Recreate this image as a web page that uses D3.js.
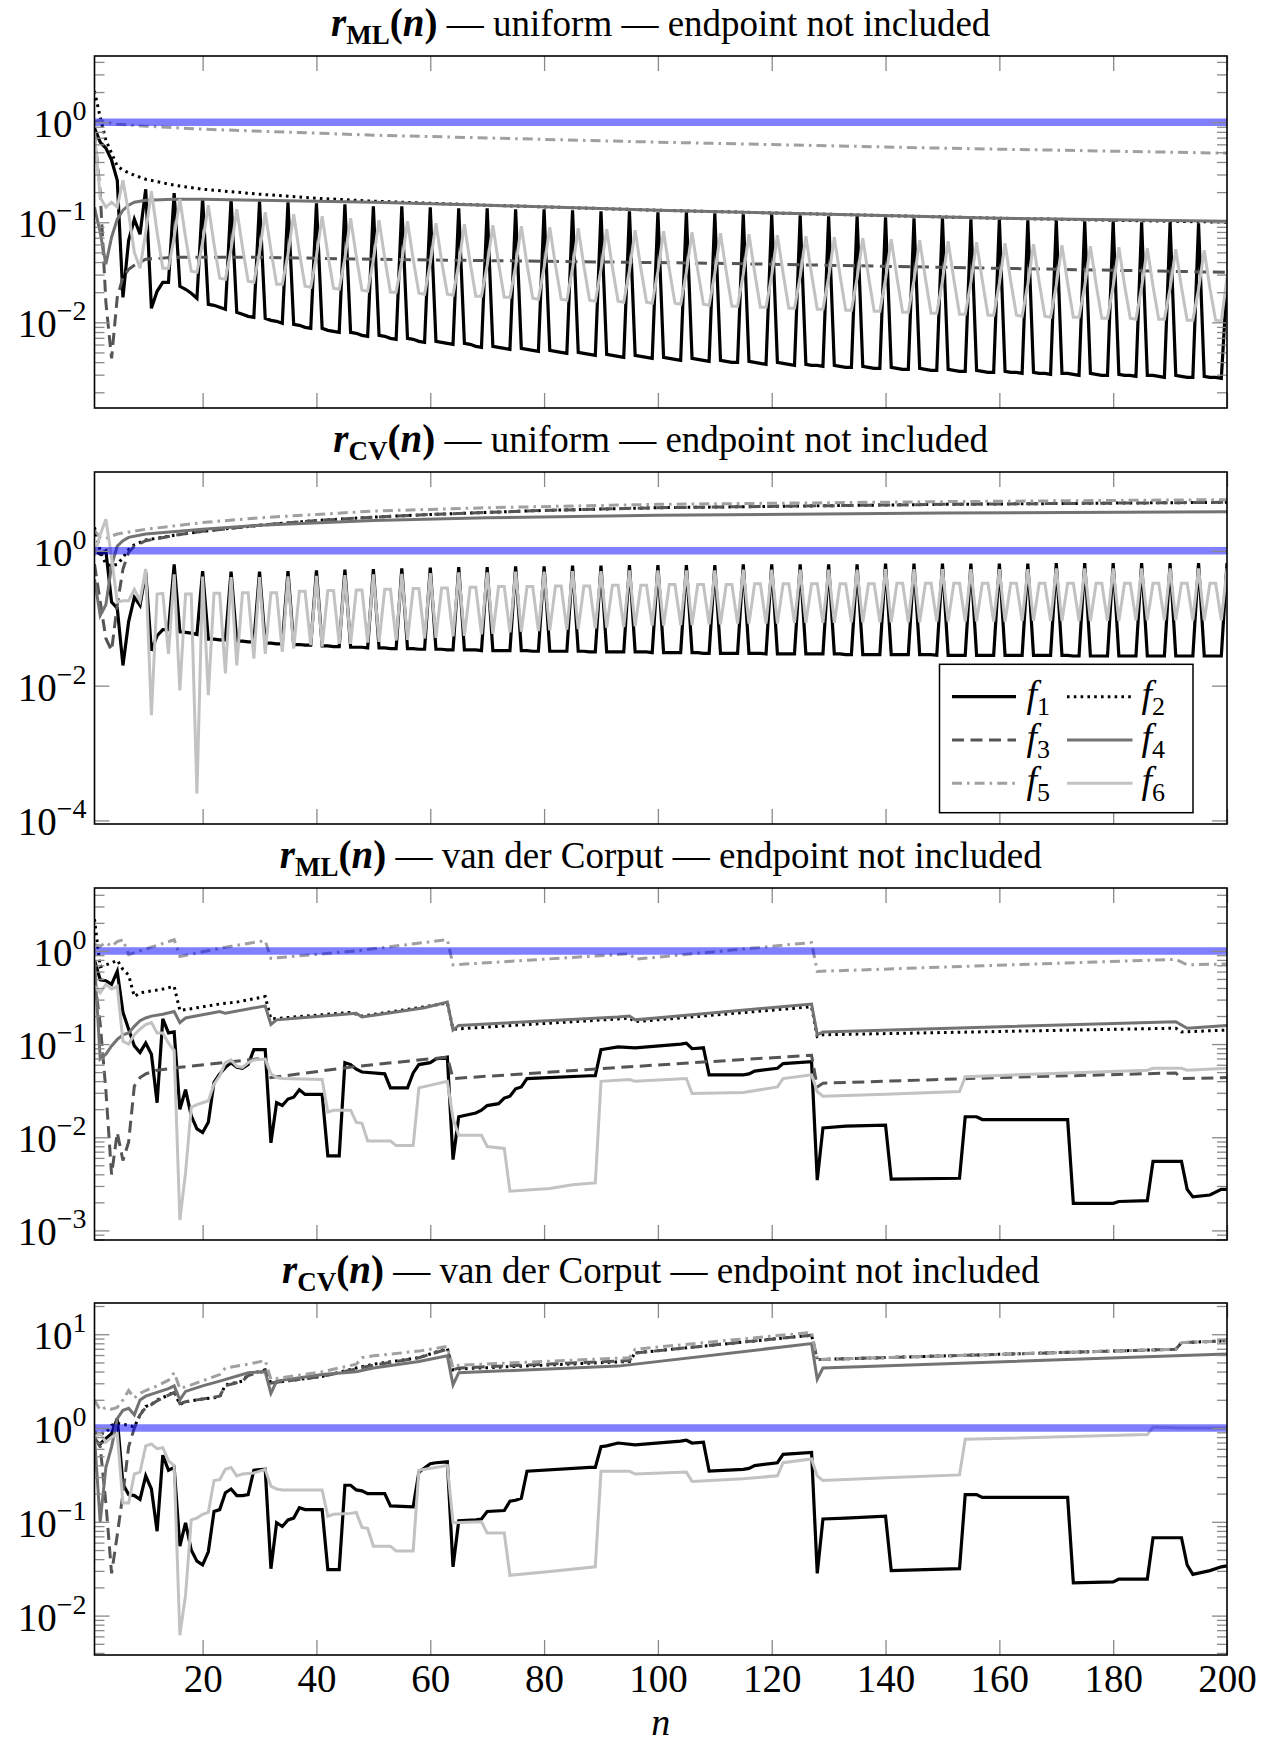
<!DOCTYPE html>
<html>
<head>
<meta charset="utf-8">
<script src="https://cdn.jsdelivr.net/npm/d3@7"></script>
<style>
	body { margin: 0; background: #fff; }
	svg text { font-family: "Liberation Serif", "Times New Roman", serif; fill: #000; }
	.tick line { stroke: #8a8a8a; stroke-width: 1.3; }
	.domain { display: none; }
</style>
</head>
<body>
<svg id="chart"></svg>
<script>
/***************
* Chart values *
***************/
// All series values are stored as log10(r). Dense arrays start at n = 1, sparse ones are [n, log10 r].
var xTicks = [20, 40, 60, 80, 100, 120, 140, 160, 180, 200];
var nRange = [1, 200];
var referenceLine = [[1, 0], [200, 0]];
var legendLabels = ["1", "2", "3", "4", "5", "6"];

// Panel 1: r_ML, uniform.
var mlUniYExp = [-2.856, 0.661];
var mlUniYLabels = [0, -1, -2];
var mlUniF1 = [-0.06,-0.2,-0.26,-0.38,-0.58,-1.75,-1.18,-0.97,-1.12,-0.67,
	-1.86,-1.69,-1.60,-1.60,-0.71,
	-1.64,-1.67,-1.71,-1.76,-0.76,
	-1.82,-1.83,-1.85,-1.87,-0.77,
	-1.90,-1.92,-1.94,-1.95,-0.79,
	-1.96,-1.98,-1.99,-2.01,-0.80,
	-2.02,-2.03,-2.05,-2.06,-0.81,
	-2.06,-2.08,-2.09,-2.10,-0.82,
	-2.10,-2.11,-2.13,-2.14,-0.84,
	-2.13,-2.14,-2.16,-2.17,-0.84,
	-2.16,-2.17,-2.19,-2.20,-0.85,
	-2.19,-2.20,-2.21,-2.22,-0.86,
	-2.21,-2.22,-2.24,-2.25,-0.86,
	-2.24,-2.25,-2.26,-2.27,-0.87,
	-2.26,-2.27,-2.28,-2.29,-0.87,
	-2.28,-2.29,-2.30,-2.31,-0.88,
	-2.30,-2.31,-2.32,-2.33,-0.89,
	-2.32,-2.33,-2.34,-2.35,-0.89,
	-2.33,-2.34,-2.35,-2.36,-0.90,
	-2.35,-2.36,-2.37,-2.38,-0.90,
	-2.36,-2.37,-2.38,-2.39,-0.91,
	-2.38,-2.39,-2.40,-2.40,-0.92,
	-2.39,-2.40,-2.41,-2.42,-0.92,
	-2.40,-2.41,-2.42,-2.43,-0.93,
	-2.42,-2.43,-2.43,-2.44,-0.94,
	-2.43,-2.44,-2.45,-2.45,-0.94,
	-2.44,-2.45,-2.46,-2.46,-0.95,
	-2.45,-2.46,-2.47,-2.47,-0.96,
	-2.46,-2.47,-2.48,-2.48,-0.96,
	-2.47,-2.48,-2.49,-2.49,-0.97,
	-2.48,-2.49,-2.50,-2.50,-0.97,
	-2.49,-2.50,-2.50,-2.51,-0.98,
	-2.50,-2.51,-2.51,-2.52,-0.98,
	-2.51,-2.51,-2.52,-2.53,-0.99,
	-2.51,-2.52,-2.53,-2.53,-0.99,
	-2.52,-2.53,-2.53,-2.54,-1.00,
	-2.53,-2.53,-2.54,-2.55,-1.00,
	-2.53,-2.54,-2.55,-2.55,-1.01,
	-2.54,-2.55,-2.55,-2.56,-1.60];
var mlUniF2 = [[1,0.31],[2,0.05],[3,-0.18],[4,-0.31],[5,-0.44],[6,-0.48],[8,-0.53],[10,-0.57],[15,-0.63],[20,-0.67],[30,-0.72],[40,-0.76],[50,-0.79],[70,-0.83],[100,-0.88],[130,-0.92],[160,-0.96],[200,-1.0]];
var mlUniF3 = [[1,-0.1],[2,-0.7],[3,-1.8],[4,-2.36],[5,-1.75],[6,-1.55],[7,-1.47],[8,-1.43],[10,-1.37],[15,-1.35],[30,-1.35],[50,-1.37],[110,-1.41],[150,-1.45],[200,-1.5]];
var mlUniF4 = [[1,-0.85],[2,-1.1],[3,-1.42],[4,-1.15],[5,-0.97],[6,-0.88],[7,-0.83],[8,-0.8],[10,-0.78],[15,-0.77],[20,-0.77],[30,-0.78],[50,-0.8],[70,-0.83],[100,-0.88],[130,-0.92],[160,-0.96],[200,-0.99]];
var mlUniF5 = [[1,0.0],[2,0.02],[3,0.0],[5,-0.02],[10,-0.04],[20,-0.07],[50,-0.13],[100,-0.2],[150,-0.26],[200,-0.31]];
var mlUniF6 = [-0.1,-0.75,-0.85,-0.8,-0.85,-0.58,-0.91,-1.3,-1.46,-1.1,
	-0.69,-1.10,-1.46,-1.46,-1.15,
	-0.77,-1.15,-1.49,-1.50,-1.20,
	-0.83,-1.22,-1.56,-1.57,-1.27,
	-0.87,-1.25,-1.59,-1.60,-1.30,
	-0.90,-1.28,-1.62,-1.62,-1.32,
	-0.92,-1.30,-1.64,-1.65,-1.34,
	-0.94,-1.32,-1.66,-1.67,-1.36,
	-0.96,-1.34,-1.68,-1.69,-1.38,
	-0.98,-1.36,-1.70,-1.70,-1.39,
	-0.99,-1.37,-1.71,-1.72,-1.41,
	-1.01,-1.39,-1.72,-1.73,-1.42,
	-1.02,-1.40,-1.74,-1.74,-1.43,
	-1.03,-1.41,-1.75,-1.75,-1.44,
	-1.04,-1.42,-1.76,-1.77,-1.45,
	-1.05,-1.43,-1.77,-1.78,-1.46,
	-1.06,-1.44,-1.78,-1.79,-1.47,
	-1.07,-1.45,-1.79,-1.80,-1.48,
	-1.08,-1.46,-1.80,-1.81,-1.49,
	-1.09,-1.47,-1.81,-1.82,-1.50,
	-1.10,-1.48,-1.82,-1.83,-1.51,
	-1.11,-1.49,-1.84,-1.84,-1.52,
	-1.12,-1.50,-1.85,-1.85,-1.53,
	-1.13,-1.51,-1.86,-1.86,-1.54,
	-1.14,-1.52,-1.87,-1.87,-1.55,
	-1.15,-1.53,-1.88,-1.88,-1.56,
	-1.16,-1.54,-1.89,-1.89,-1.57,
	-1.17,-1.55,-1.90,-1.90,-1.58,
	-1.18,-1.56,-1.91,-1.91,-1.59,
	-1.19,-1.57,-1.92,-1.92,-1.60,
	-1.20,-1.58,-1.93,-1.93,-1.61,
	-1.21,-1.59,-1.93,-1.94,-1.62,
	-1.22,-1.60,-1.94,-1.95,-1.63,
	-1.23,-1.61,-1.95,-1.95,-1.64,
	-1.24,-1.62,-1.96,-1.96,-1.64,
	-1.25,-1.63,-1.96,-1.97,-1.65,
	-1.26,-1.64,-1.97,-1.97,-1.66,
	-1.27,-1.65,-1.98,-1.98,-1.67,
	-1.28,-1.66,-1.98,-1.99,-1.55];

// Panel 2: r_CV, uniform.
var cvUniYExp = [-4.053, 1.17];
var cvUniYLabels = [0, -2, -4];
var cvUniF1 = [0.0,-0.05,0.0,-0.76,-0.85,-1.7,-1.05,-0.69,-0.81,-0.32,
	-1.48,-1.26,-1.17,-1.17,-0.20,
	-1.20,-1.21,-1.22,-1.24,-0.30,
	-1.31,-1.31,-1.32,-1.32,-0.31,
	-1.34,-1.34,-1.35,-1.35,-0.31,
	-1.37,-1.37,-1.38,-1.38,-0.30,
	-1.39,-1.39,-1.40,-1.40,-0.29,
	-1.41,-1.41,-1.42,-1.42,-0.28,
	-1.43,-1.43,-1.43,-1.44,-0.27,
	-1.44,-1.44,-1.45,-1.45,-0.26,
	-1.45,-1.45,-1.46,-1.46,-0.25,
	-1.46,-1.46,-1.47,-1.47,-0.24,
	-1.47,-1.47,-1.47,-1.48,-0.24,
	-1.48,-1.48,-1.48,-1.48,-0.23,
	-1.48,-1.48,-1.49,-1.49,-0.23,
	-1.49,-1.49,-1.49,-1.49,-0.22,
	-1.49,-1.49,-1.50,-1.50,-0.22,
	-1.50,-1.50,-1.50,-1.50,-0.21,
	-1.50,-1.50,-1.50,-1.51,-0.21,
	-1.51,-1.51,-1.51,-1.51,-0.21,
	-1.51,-1.51,-1.52,-1.52,-0.21,
	-1.52,-1.52,-1.52,-1.52,-0.20,
	-1.52,-1.52,-1.52,-1.53,-0.20,
	-1.53,-1.53,-1.53,-1.53,-0.20,
	-1.53,-1.53,-1.53,-1.53,-0.20,
	-1.53,-1.53,-1.54,-1.54,-0.20,
	-1.54,-1.54,-1.54,-1.54,-0.19,
	-1.54,-1.54,-1.54,-1.54,-0.19,
	-1.54,-1.54,-1.54,-1.55,-0.19,
	-1.55,-1.55,-1.55,-1.55,-0.19,
	-1.55,-1.55,-1.55,-1.55,-0.19,
	-1.55,-1.55,-1.55,-1.55,-0.19,
	-1.55,-1.55,-1.55,-1.55,-0.18,
	-1.55,-1.55,-1.56,-1.56,-0.18,
	-1.56,-1.56,-1.56,-1.56,-0.18,
	-1.56,-1.56,-1.56,-1.56,-0.18,
	-1.56,-1.56,-1.56,-1.56,-0.18,
	-1.56,-1.56,-1.56,-1.56,-0.18,
	-1.56,-1.56,-1.56,-1.56,-0.18];
var cvUniF2 = [[1,0.35],[2,0.0],[3,-0.2],[4,-0.22],[5,-0.2],[6,-0.1],[7,0.02],[8,0.09],[10,0.16],[15,0.23],[20,0.29],[30,0.38],[40,0.45],[50,0.5],[60,0.54],[80,0.6],[100,0.64],[150,0.69],[200,0.72]];
var cvUniF3 = [[1,-0.2],[2,-0.75],[3,-1.3],[4,-1.48],[5,-0.8],[6,-0.27],[7,-0.02],[8,0.07],[10,0.15],[15,0.23],[20,0.29],[30,0.38],[40,0.45],[50,0.5],[60,0.54],[80,0.6],[100,0.64],[150,0.69],[200,0.72]];
var cvUniF4 = [[1,-0.42],[2,-0.96],[3,-0.8],[4,-0.22],[5,0.07],[6,0.15],[7,0.2],[10,0.25],[20,0.32],[30,0.38],[50,0.45],[70,0.49],[100,0.53],[150,0.56],[200,0.58]];
var cvUniF5 = [[1,0.3],[2,0.2],[3,0.18],[4,0.22],[5,0.25],[10,0.32],[20,0.42],[30,0.49],[40,0.54],[50,0.59],[70,0.64],[100,0.69],[150,0.73],[200,0.76]];
var cvUniF6 = [-0.07,0.24,0.47,-0.1,-0.76,-0.74,-0.74,-0.57,-0.74,-0.27,
	-2.44,-0.64,-0.63,-1.53,-0.35,
	-2.07,-0.64,-0.64,-3.60,-0.38,
	-2.14,-0.63,-0.63,-1.82,-0.39,
	-1.70,-0.62,-0.62,-1.60,-0.39,
	-1.53,-0.62,-0.62,-1.50,-0.38,
	-1.45,-0.60,-0.60,-1.40,-0.37,
	-1.42,-0.59,-0.59,-1.38,-0.36,
	-1.38,-0.58,-0.58,-1.36,-0.35,
	-1.35,-0.57,-0.57,-1.33,-0.34,
	-1.32,-0.56,-0.56,-1.30,-0.33,
	-1.29,-0.55,-0.55,-1.27,-0.32,
	-1.26,-0.54,-0.54,-1.24,-0.32,
	-1.23,-0.53,-0.53,-1.21,-0.31,
	-1.20,-0.53,-0.53,-1.19,-0.31,
	-1.18,-0.52,-0.52,-1.17,-0.30,
	-1.16,-0.52,-0.52,-1.15,-0.30,
	-1.14,-0.51,-0.51,-1.13,-0.29,
	-1.12,-0.51,-0.51,-1.11,-0.29,
	-1.11,-0.50,-0.50,-1.10,-0.29,
	-1.10,-0.50,-0.50,-1.09,-0.29,
	-1.09,-0.50,-0.50,-1.08,-0.28,
	-1.08,-0.49,-0.49,-1.08,-0.28,
	-1.08,-0.49,-0.49,-1.07,-0.28,
	-1.07,-0.49,-0.49,-1.07,-0.28,
	-1.07,-0.49,-0.49,-1.06,-0.28,
	-1.06,-0.49,-0.49,-1.06,-0.27,
	-1.06,-0.48,-0.48,-1.06,-0.27,
	-1.06,-0.48,-0.48,-1.05,-0.27,
	-1.05,-0.48,-0.48,-1.05,-0.27,
	-1.05,-0.48,-0.48,-1.05,-0.27,
	-1.05,-0.48,-0.48,-1.04,-0.27,
	-1.04,-0.48,-0.48,-1.04,-0.26,
	-1.04,-0.48,-0.48,-1.04,-0.26,
	-1.04,-0.48,-0.48,-1.04,-0.26,
	-1.04,-0.48,-0.48,-1.03,-0.26,
	-1.03,-0.48,-0.48,-1.03,-0.26,
	-1.03,-0.48,-0.48,-1.03,-0.26,
	-1.03,-0.48,-0.48,-1.03,-0.26];

// Panel 3: r_ML, van der Corput.
var mlVdcYExp = [-3.103, 0.675];
var mlVdcYLabels = [0, -1, -2, -3];
var mlVdcF1 = [[1,-0.1],[2,-0.31],[3,-0.32],[4,-0.36],[5,-0.22],[6,-0.66],[7,-0.84],[8,-1.02],[9,-1.09],[10,-0.99],[11,-1.11],[12,-1.63],[13,-0.73],[14,-0.88],[15,-0.87],[16,-1.7],[17,-1.49],[18,-1.77],[19,-1.91],[20,-1.95],[21,-1.84],[22,-1.41],[23,-1.32],[24,-1.25],[25,-1.2],[26,-1.25],[27,-1.26],[28,-1.22],[29,-1.06],[31,-1.06],[32,-2.06],[33,-1.63],[34,-1.66],[35,-1.59],[36,-1.57],[37,-1.49],[38,-1.54],[41,-1.54],[42,-2.2],[44,-2.2],[45,-1.2],[46,-1.22],[47,-1.27],[48,-1.3],[52,-1.32],[53,-1.47],[56,-1.47],[57,-1.31],[58,-1.22],[60,-1.2],[61,-1.16],[63,-1.14],[64,-2.24],[65,-1.78],[68,-1.74],[69,-1.71],[70,-1.66],[72,-1.64],[73,-1.58],[74,-1.56],[75,-1.48],[76,-1.46],[77,-1.37],[88,-1.34],[89,-1.34],[90,-1.06],[91,-1.05],[93,-1.03],[96,-1.04],[104,-1.0],[105,-0.99],[106,-1.05],[108,-1.04],[109,-1.33],[115,-1.33],[116,-1.32],[117,-1.29],[121,-1.26],[122,-1.21],[127,-1.19],[128,-2.46],[129,-1.9],[133,-1.88],[140,-1.87],[141,-2.45],[153,-2.44],[154,-1.78],[156,-1.78],[157,-1.81],[172,-1.81],[173,-2.71],[180,-2.71],[181,-2.69],[186,-2.68],[187,-2.26],[192,-2.26],[193,-2.56],[194,-2.64],[197,-2.62],[199,-2.56],[200,-2.56]];
var mlVdcF2 = [[1,0.34],[2,-0.17],[3,-0.15],[4,-0.13],[5,-0.1],[6,-0.2],[7,-0.26],[8,-0.49],[9,-0.45],[11,-0.43],[13,-0.41],[15,-0.38],[16,-0.64],[18,-0.62],[23,-0.57],[26,-0.55],[31,-0.49],[32,-0.73],[46,-0.66],[48,-0.7],[59,-0.6],[63,-0.56],[64,-0.84],[93,-0.73],[95,-0.72],[96,-0.76],[127,-0.6],[128,-0.92],[129,-0.9],[191,-0.83],[192,-0.87],[200,-0.85]];
var mlVdcF3 = [[1,-0.3],[2,-0.78],[3,-1.5],[4,-2.4],[5,-1.95],[6,-2.25],[7,-2.05],[8,-1.45],[9,-1.36],[10,-1.32],[12,-1.28],[16,-1.25],[31,-1.15],[32,-1.36],[47,-1.24],[63,-1.14],[64,-1.37],[96,-1.24],[127,-1.12],[128,-1.46],[129,-1.42],[160,-1.36],[191,-1.31],[192,-1.37],[200,-1.36]];
var mlVdcF4 = [[1,-0.1],[2,-1.16],[3,-1.11],[4,-1.02],[5,-0.95],[6,-0.9],[7,-0.88],[8,-0.81],[9,-0.75],[10,-0.72],[11,-0.7],[13,-0.68],[15,-0.65],[16,-0.77],[17,-0.72],[23,-0.65],[24,-0.67],[31,-0.59],[32,-0.79],[33,-0.74],[47,-0.67],[48,-0.71],[59,-0.61],[63,-0.55],[64,-0.85],[65,-0.8],[93,-0.71],[95,-0.7],[96,-0.74],[127,-0.57],[128,-0.9],[129,-0.87],[191,-0.76],[193,-0.83],[200,-0.8]];
var mlVdcF5 = [[1,0.07],[2,0.05],[3,0.09],[4,0.05],[5,0.1],[6,0.12],[7,-0.04],[9,0.0],[15,0.12],[16,-0.06],[24,0.04],[31,0.11],[32,-0.08],[47,0.0],[63,0.12],[64,-0.15],[93,-0.04],[95,-0.03],[96,-0.09],[127,0.09],[128,-0.22],[191,-0.09],[193,-0.15],[200,-0.14]];
var mlVdcF6 = [[1,-0.38],[2,-0.45],[3,-0.36],[4,-0.41],[5,-0.38],[6,-0.97],[7,-1.0],[8,-0.9],[9,-0.84],[10,-0.79],[11,-0.77],[12,-0.88],[13,-0.88],[14,-0.99],[15,-1.07],[16,-2.89],[17,-2.38],[18,-1.68],[19,-1.65],[20,-1.63],[21,-1.61],[22,-1.43],[23,-1.34],[24,-1.2],[25,-1.17],[26,-1.24],[27,-1.25],[28,-1.2],[29,-1.17],[31,-1.16],[32,-1.32],[33,-1.36],[34,-1.37],[41,-1.38],[42,-1.73],[43,-1.71],[46,-1.71],[47,-1.84],[48,-1.85],[49,-2.04],[53,-2.04],[54,-2.09],[57,-2.09],[58,-1.47],[63,-1.4],[64,-1.8],[65,-1.98],[69,-1.98],[70,-2.1],[73,-2.12],[74,-2.58],[81,-2.55],[85,-2.51],[89,-2.49],[90,-1.4],[95,-1.38],[96,-1.4],[105,-1.37],[106,-1.53],[115,-1.52],[121,-1.46],[122,-1.37],[127,-1.33],[128,-1.51],[129,-1.56],[140,-1.54],[153,-1.51],[154,-1.35],[186,-1.28],[187,-1.26],[192,-1.26],[193,-1.28],[200,-1.26]];

// Panel 4: r_CV, van der Corput.
var cvVdcYExp = [-2.42, 1.333];
var cvVdcYLabels = [1, 0, -1, -2];
var cvVdcF1 = [[1,-0.13],[2,-0.17],[3,-0.11],[4,-0.06],[5,0.1],[6,-0.6],[7,-0.71],[8,-0.72],[9,-0.76],[10,-0.51],[11,-0.65],[12,-1.1],[13,-0.29],[14,-0.45],[15,-0.42],[16,-1.26],[17,-1.01],[18,-1.3],[19,-1.42],[20,-1.46],[21,-1.32],[22,-0.89],[23,-0.87],[24,-0.69],[25,-0.65],[26,-0.72],[27,-0.72],[28,-0.71],[29,-0.45],[31,-0.44],[32,-1.5],[33,-1.01],[34,-1.05],[35,-0.98],[36,-0.96],[37,-0.85],[38,-0.87],[41,-0.87],[42,-1.51],[44,-1.51],[45,-0.61],[46,-0.61],[47,-0.66],[48,-0.67],[49,-0.7],[52,-0.7],[53,-0.83],[57,-0.84],[58,-0.47],[60,-0.38],[61,-0.37],[63,-0.36],[64,-1.48],[65,-0.99],[68,-0.98],[69,-0.97],[70,-0.89],[73,-0.88],[74,-0.78],[75,-0.77],[76,-0.75],[77,-0.46],[88,-0.42],[89,-0.42],[90,-0.2],[91,-0.19],[93,-0.16],[96,-0.18],[104,-0.14],[105,-0.13],[106,-0.16],[108,-0.15],[109,-0.46],[115,-0.44],[116,-0.43],[117,-0.4],[121,-0.37],[122,-0.28],[127,-0.26],[128,-1.55],[129,-0.97],[133,-0.96],[140,-0.94],[141,-1.52],[153,-1.5],[154,-0.71],[156,-0.71],[157,-0.74],[172,-0.74],[173,-1.65],[180,-1.64],[181,-1.61],[186,-1.61],[187,-1.17],[192,-1.17],[193,-1.46],[194,-1.56],[197,-1.52],[199,-1.48],[200,-1.47]];
var cvVdcF2 = [[1,-0.05],[2,-0.06],[3,-0.05],[4,0.03],[5,0.05],[6,0.04],[7,0.03],[8,0.01],[9,0.14],[10,0.23],[11,0.25],[12,0.3],[14,0.35],[15,0.39],[16,0.25],[17,0.28],[20,0.31],[23,0.33],[24,0.46],[27,0.5],[28,0.57],[31,0.62],[32,0.48],[41,0.55],[47,0.64],[50,0.68],[58,0.75],[63,0.85],[64,0.62],[65,0.63],[95,0.71],[96,0.8],[127,0.99],[128,0.73],[191,0.84],[192,0.91],[200,0.93]];
var cvVdcF3 = [[1,-0.1],[2,-0.2],[3,-0.8],[4,-1.55],[5,-1.14],[6,-0.7],[7,-0.2],[8,0.0],[9,0.14],[10,0.22],[11,0.25],[12,0.29],[14,0.35],[15,0.38],[16,0.26],[17,0.28],[20,0.31],[23,0.34],[24,0.45],[27,0.5],[28,0.56],[31,0.61],[32,0.48],[41,0.55],[47,0.63],[50,0.67],[58,0.75],[63,0.84],[64,0.62],[65,0.64],[95,0.72],[96,0.8],[127,0.99],[128,0.73],[191,0.84],[192,0.91],[200,0.93]];
var cvVdcF4 = [[1,-0.1],[2,-1.0],[3,-0.42],[4,-0.2],[5,0.1],[6,0.19],[7,0.21],[8,0.14],[9,0.3],[10,0.34],[12,0.38],[14,0.42],[15,0.45],[16,0.3],[17,0.39],[20,0.45],[23,0.5],[28,0.59],[31,0.6],[32,0.37],[33,0.5],[41,0.57],[47,0.6],[50,0.64],[58,0.71],[63,0.77],[64,0.46],[65,0.59],[93,0.66],[127,0.9],[128,0.52],[129,0.64],[191,0.77],[200,0.79]];
var cvVdcF5 = [[1,0.3],[2,0.19],[3,0.22],[4,0.2],[5,0.22],[6,0.3],[7,0.4],[8,0.32],[9,0.37],[10,0.4],[12,0.45],[14,0.51],[15,0.59],[16,0.42],[18,0.46],[23,0.57],[24,0.64],[28,0.68],[31,0.72],[32,0.52],[41,0.6],[47,0.68],[48,0.75],[50,0.77],[58,0.82],[63,0.87],[64,0.64],[65,0.67],[95,0.75],[96,0.84],[127,1.02],[128,0.73],[191,0.84],[192,0.91],[200,0.93]];
var cvVdcF6 = [[1,-0.1],[2,-0.06],[3,-0.15],[4,-0.1],[5,-0.06],[6,-0.8],[7,-0.8],[8,-0.49],[9,-0.47],[10,-0.19],[11,-0.17],[12,-0.22],[13,-0.21],[14,-0.35],[15,-0.4],[16,-2.21],[17,-1.78],[18,-0.98],[19,-0.96],[20,-0.92],[21,-0.9],[22,-0.56],[23,-0.55],[24,-0.44],[25,-0.42],[26,-0.51],[27,-0.49],[29,-0.48],[31,-0.44],[32,-0.62],[33,-0.65],[34,-0.66],[41,-0.66],[42,-0.94],[43,-0.92],[46,-0.91],[47,-0.9],[48,-1.06],[49,-1.07],[50,-1.26],[53,-1.26],[54,-1.31],[57,-1.31],[58,-0.45],[63,-0.4],[64,-1.01],[69,-1.0],[70,-1.12],[73,-1.12],[74,-1.57],[81,-1.53],[89,-1.48],[90,-0.46],[95,-0.46],[96,-0.49],[105,-0.47],[106,-0.57],[115,-0.54],[121,-0.51],[122,-0.37],[127,-0.33],[128,-0.51],[129,-0.56],[140,-0.53],[153,-0.5],[154,-0.12],[186,-0.07],[187,0.01],[192,0.0],[200,0.0]];


/*********
* Layout *
*********/
var width = 1264, height = 1747;
var plotLeft = 94.5, plotWidth = 1227 - 94.5, plotHeight = 352;
var panelTops = [56, 472, 888, 1303];
var majorTick = 15, minorTick = 10;
var serif = "'Liberation Serif', 'Times New Roman', serif";

// Line styles for f1..f6.
var styles = [
	{ color: "#000000", width: 3.2, dash: null },
	{ color: "#000000", width: 3, dash: "2.6,4.2" },
	{ color: "#555555", width: 3, dash: "12,6.5" },
	{ color: "#737373", width: 3, dash: null },
	{ color: "#a0a0a0", width: 3, dash: "10,5,2.6,5" },
	{ color: "#c2c2c2", width: 3, dash: null }
];

var panels = [
	{ sub: "ML", method: "uniform", yExp: mlUniYExp, yLabels: mlUniYLabels, minor: true,
		series: [mlUniF1, mlUniF2, mlUniF3, mlUniF4, mlUniF5, mlUniF6] },
	{ sub: "CV", method: "uniform", yExp: cvUniYExp, yLabels: cvUniYLabels, minor: false,
		series: [cvUniF1, cvUniF2, cvUniF3, cvUniF4, cvUniF5, cvUniF6] },
	{ sub: "ML", method: "van der Corput", yExp: mlVdcYExp, yLabels: mlVdcYLabels, minor: true,
		series: [mlVdcF1, mlVdcF2, mlVdcF3, mlVdcF4, mlVdcF5, mlVdcF6] },
	{ sub: "CV", method: "van der Corput", yExp: cvVdcYExp, yLabels: cvVdcYLabels, minor: true,
		series: [cvVdcF1, cvVdcF2, cvVdcF3, cvVdcF4, cvVdcF5, cvVdcF6] }
];

// Turn a dense list (n = 1, 2, ...) or a sparse [n, v] list into points.
function toPoints(arr)
{
	if (Array.isArray(arr[0])) return arr;
	return arr.map(function(v, i) { return [i + 1, v]; });
}

// Minor tick values 2..9 x 10^k inside the axis range.
function minorTicks(lo, hi)
{
	var out = [];
	for (var k = Math.floor(lo); k <= Math.ceil(hi); k++)
	{
		for (var m = 2; m <= 9; m++)
		{
			var e = k + Math.log10(m);
			if (e > lo && e < hi) out.push(Math.pow(10, e));
		}
	}
	return out;
}

var svg = d3.select("#chart")
	.attr("width", width)
	.attr("height", height)
	.style("font-family", serif);

panels.forEach(function(p, pi)
{
	var g = svg.append("g")
		.attr("transform", "translate(" + plotLeft + "," + panelTops[pi] + ")");

	var x = d3.scaleLinear().domain(nRange).range([0, plotWidth]);
	var y = d3.scaleLog()
		.domain([Math.pow(10, p.yExp[0]), Math.pow(10, p.yExp[1])])
		.range([plotHeight, 0]);

	// Clip region for the curves.
	var clipId = "clip-" + pi;
	g.append("clipPath").attr("id", clipId)
		.append("rect").attr("width", plotWidth).attr("height", plotHeight);

	var line = d3.line()
		.x(function(d) { return x(d[0]); })
		.y(function(d) { return y(Math.pow(10, d[1])); });

	var curves = g.append("g").attr("clip-path", "url(#" + clipId + ")");
	p.series.forEach(function(s, si)
	{
		var st = styles[si];
		curves.append("path")
			.datum(toPoints(s))
			.attr("d", line)
			.attr("fill", "none")
			.attr("stroke", st.color)
			.attr("stroke-width", st.width)
			.attr("stroke-dasharray", st.dash);
	});
	// Reference line at r = 1, half transparent blue.
	curves.append("path")
		.datum(referenceLine)
		.attr("d", line)
		.attr("fill", "none")
		.attr("stroke", "#0000ff")
		.attr("stroke-opacity", 0.5)
		.attr("stroke-width", 7.5);

	// Ticks, all pointing inwards.
	var majorVals = p.yLabels.map(function(e) { return Math.pow(10, e); });
	g.append("g")
		.call(d3.axisLeft(y).tickValues(majorVals).tickSizeInner(-majorTick).tickSizeOuter(0).tickFormat(""));
	g.append("g").attr("transform", "translate(" + plotWidth + ",0)")
		.call(d3.axisRight(y).tickValues(majorVals).tickSizeInner(-majorTick).tickSizeOuter(0).tickFormat(""));
	if (p.minor)
	{
		var minorVals = minorTicks(p.yExp[0], p.yExp[1]);
		g.append("g")
			.call(d3.axisLeft(y).tickValues(minorVals).tickSizeInner(-minorTick).tickSizeOuter(0).tickFormat(""));
		g.append("g").attr("transform", "translate(" + plotWidth + ",0)")
			.call(d3.axisRight(y).tickValues(minorVals).tickSizeInner(-minorTick).tickSizeOuter(0).tickFormat(""));
	}
	g.append("g")
		.call(d3.axisTop(x).tickValues(xTicks).tickSizeInner(-majorTick).tickSizeOuter(0).tickFormat(""));
	var bottomAxis = g.append("g").attr("transform", "translate(0," + plotHeight + ")")
		.call(d3.axisBottom(x).tickValues(xTicks).tickSizeInner(-majorTick).tickSizeOuter(0).tickPadding(9)
			.tickFormat(pi === panels.length - 1 ? d3.format("d") : ""));
	bottomAxis.attr("font-family", serif);
	bottomAxis.selectAll("text")
		.style("font-size", "39px")
		.style("font-family", serif)
		.attr("fill", "#000");

	// Y tick labels as 10 with a superscript exponent.
	p.yLabels.forEach(function(e)
	{
		var t = g.append("text")
			.attr("x", -8)
			.attr("y", y(Math.pow(10, e)) + 15)
			.attr("text-anchor", "end")
			.style("font-family", serif)
			.style("font-size", "39px");
		t.append("tspan").text("10");
		t.append("tspan").attr("dy", -17).style("font-size", "28px")
			.text(e < 0 ? "\u2212" + (-e) : String(e));
	});

	// Frame.
	g.append("rect")
		.attr("width", plotWidth)
		.attr("height", plotHeight)
		.attr("fill", "none")
		.attr("stroke", "#000")
		.attr("stroke-width", 1.6);

	// Title.
	var title = g.append("text")
		.attr("x", plotWidth / 2)
		.attr("y", -20)
		.attr("text-anchor", "middle")
		.style("font-family", serif)
		.style("font-size", "37px");
	title.append("tspan").attr("font-weight", "bold").attr("font-style", "italic").style("font-size", "39px").text("r");
	title.append("tspan").attr("font-weight", "bold").style("font-size", "27px").attr("dy", 8).text(p.sub);
	title.append("tspan").attr("font-weight", "bold").attr("dy", -8).style("font-size", "39px").text("(");
	title.append("tspan").attr("font-weight", "bold").attr("font-style", "italic").style("font-size", "39px").text("n");
	title.append("tspan").attr("font-weight", "bold").style("font-size", "39px").text(")");
	title.append("tspan").text(" \u2014 " + p.method + " \u2014 endpoint not included");

	// Legend sits inside the second panel.
	if (pi === 1)
	{
		var lx = 845, ly = 192.3, lw = 253.5, lh = 148.4;
		var legend = g.append("g").attr("transform", "translate(" + lx + "," + ly + ")");
		legend.append("rect")
			.attr("width", lw).attr("height", lh)
			.attr("fill", "#fff").attr("stroke", "#000").attr("stroke-width", 1.5);
		var rowY = [32.4, 75.7, 119];
		var colSample = [[12.5, 76.5], [127.5, 193]];
		var colLabel = [87, 202];
		legendLabels.forEach(function(lab, i)
		{
			var row = Math.floor(i / 2), col = i % 2;
			var st = styles[i];
			legend.append("line")
				.attr("x1", colSample[col][0]).attr("x2", colSample[col][1])
				.attr("y1", rowY[row]).attr("y2", rowY[row])
				.attr("stroke", st.color)
				.attr("stroke-width", st.width)
				.attr("stroke-dasharray", st.dash);
			var t = legend.append("text")
				.attr("x", colLabel[col])
				.attr("y", rowY[row] + 10)
				.style("font-family", serif)
				.style("font-size", "38px");
			t.append("tspan").attr("font-style", "italic").text("f");
			t.append("tspan").attr("dy", 8).style("font-size", "26px").text(lab);
		});
	}
});

// X axis label.
svg.append("text")
	.attr("x", plotLeft + plotWidth / 2)
	.attr("y", 1735)
	.attr("text-anchor", "middle")
	.attr("font-style", "italic")
	.style("font-family", serif)
	.style("font-size", "38px")
	.text("n");
</script>
</body>
</html>
